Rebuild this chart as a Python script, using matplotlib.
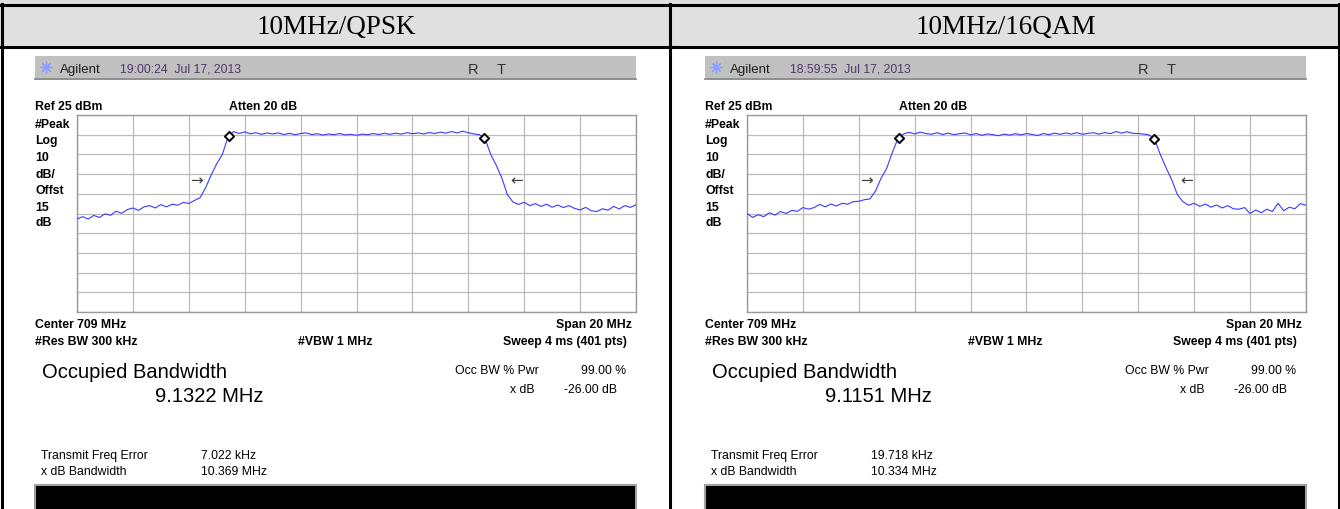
import numpy as np
import matplotlib
matplotlib.use("Agg")
import matplotlib.pyplot as plt
from matplotlib.patches import Rectangle

# ---------------- data ----------------
titles = ["10MHz/QPSK", "10MHz/16QAM"]
timestamps = ["19:00:24  Jul 17, 2013", "18:59:55  Jul 17, 2013"]
center_mhz = 709
span_mhz = 20
ref_dbm = 25
db_per_div = 10
occ_bw_mhz = [9.1322, 9.1151]
freq_err = ["7.022 kHz", "19.718 kHz"]
xdb_bw_mhz = [10.369, 10.334]
xdb_bw_text = ["10.369 MHz", "10.334 MHz"]

trace_qpsk = [
    -27.8, -26.6, -27.8, -26.0, -27.0, -25.2, -25.9, -23.8, -24.9, -23.0,
    -22.2, -23.4, -21.6, -21.0, -22.2, -20.5, -21.6, -20.3, -20.8, -19.4,
    -19.9, -18.4, -17.0, -12.0, -5.5, 0.3, 5.0, 13.7,
    16.6, 15.6, 16.4, 15.5, 16.0, 15.2, 15.9, 15.4, 15.9, 15.1,
    15.7, 15.0, 15.6, 15.9, 15.1, 15.5, 14.8, 15.4, 15.0, 15.6,
    14.9, 15.2, 14.7, 15.3, 15.0, 15.6, 15.1, 15.7, 15.2, 15.8,
    15.3, 16.0, 15.5, 15.9, 15.4, 16.1, 15.6, 16.3, 15.8, 16.6,
    15.9, 16.8, 16.0,
    15.4, 15.0, 13.0, 5.0, -0.5, -7.0, -15.5,
    -19.2, -20.4, -19.3, -21.0, -20.0, -21.4, -20.3, -21.8, -20.7, -22.0,
    -21.0, -22.4, -23.2, -21.9, -23.6, -24.0, -22.6, -23.3, -21.4, -22.7,
    -21.0, -21.9, -20.6,
]
trace_16qam = [
    -25.0, -27.0, -25.6, -26.6, -24.6, -25.8, -24.0, -25.0, -23.4, -23.9,
    -22.0, -22.8, -22.0, -20.4, -21.6, -20.2, -21.2, -19.8, -20.3, -19.0,
    -18.8, -18.0, -17.6, -13.5, -7.0, -2.0, 6.0, 13.0,
    15.4, 16.2, 15.4, 16.3, 15.6, 15.2, 16.0, 15.1, 15.8, 15.0,
    15.5, 15.9, 14.9, 15.6, 14.7, 15.4, 15.0, 14.5, 15.3, 14.8,
    15.5, 14.9, 15.6, 15.1, 14.6, 15.6, 15.0, 15.8, 15.2, 15.9,
    15.3, 16.0, 15.2, 15.7, 16.0, 15.3, 16.1, 15.5, 16.6, 15.8,
    16.5, 15.7, 15.6,
    15.3, 14.8, 12.0, 4.5, -2.0, -8.0, -15.5,
    -19.0, -20.8, -19.8, -21.4, -20.2, -21.8, -20.7, -22.2, -21.0, -22.6,
    -22.8, -22.0, -25.0, -23.2, -24.6, -22.8, -24.0, -19.8, -23.6, -21.8,
    -22.6, -20.0, -20.8,
]
traces = [trace_qpsk, trace_16qam]

# ---------------- figure ----------------
W, H = 1340, 510
fig = plt.figure(figsize=(W / 100, H / 100), dpi=100)
fig.patch.set_facecolor("white")
bg = fig.add_axes([0, 0, 1, 1])
bg.set_xlim(0, W)
bg.set_ylim(H, 0)
bg.axis("off")

SANS = ["Liberation Sans", "DejaVu Sans"]
SERIF = ["Liberation Serif", "DejaVu Serif"]
dy = 1.5  # small vertical nudge for instrument texts

# table structure
bg.add_patch(Rectangle((0, 0), W, 48, facecolor="#e0e0e0", edgecolor="none"))
bg.plot([0, W], [5.5, 5.5], color="black", lw=2.2)
bg.plot([0, W], [48, 48], color="black", lw=2.2)
for xv in [1.5, 670, 1338.5]:
    bg.plot([xv, xv], [5, H], color="black", lw=2.2)

pw = 559   # grid width in px
ph = 197   # grid height in px

for k in range(2):
    ox = 670 * k
    # header title
    bg.text(336 + ox, 28, titles[k], family=SERIF, fontsize=19.5,
            ha="center", va="center", color="black")

    # Agilent bar
    bg.add_patch(Rectangle((35 + ox, 57), 601, 22, facecolor="#c0c0c0",
                           edgecolor="none"))
    bg.plot([35 + ox, 636 + ox], [79.5, 79.5], color="#7a7a7a", lw=1.2)
    bg.scatter([46 + ox], [68], marker=(8, 2, 0), s=60, color="#8aa0ff",
               lw=0.9, zorder=3)
    bg.text(60 + ox, 68 + dy, "Agilent", family=SANS, fontsize=9.5,
            ha="left", va="center", color="#202020")
    bg.text(120 + ox, 68 + dy, timestamps[k], family=SANS, fontsize=8.8,
            ha="left", va="center", color="#503868")
    bg.text(468 + ox, 68 + dy, "R", family=SANS, fontsize=10.5,
            ha="left", va="center", color="#303030")
    bg.text(497 + ox, 68 + dy, "T", family=SANS, fontsize=10.5,
            ha="left", va="center", color="#303030")

    # labels above / left of grid
    bold = dict(family=SANS, fontsize=8.8, fontweight="bold",
                va="center", color="black")
    bg.text(35 + ox, 106 + dy, f"Ref {ref_dbm} dBm", ha="left", **bold)
    bg.text(229 + ox, 106 + dy, "Atten 20 dB", ha="left", **bold)
    for yy, s in zip([123, 140, 157, 174, 190, 207, 222],
                     ["#Peak", "Log", f"{db_per_div}", "dB/", "Offst", "15", "dB"]):
        bg.text(35 + ox, yy + dy, s, ha="left", **bold)

    bg.text(35 + ox, 324 + dy, f"Center {center_mhz} MHz", ha="left", **bold)
    bg.text(632 + ox, 324 + dy, f"Span {span_mhz} MHz", ha="right", **bold)
    bg.text(35 + ox, 341 + dy, "#Res BW 300 kHz", ha="left", **bold)
    bg.text(298 + ox, 341 + dy, "#VBW 1 MHz", ha="left", **bold)
    bg.text(627 + ox, 341 + dy, "Sweep 4 ms (401 pts)", ha="right", **bold)

    bg.text(42 + ox, 371 + dy, "Occupied Bandwidth", family=SANS, fontsize=14.5,
            ha="left", va="center", color="black")
    bg.text(155 + ox, 395 + dy, f"{occ_bw_mhz[k]:.4f} MHz", family=SANS,
            fontsize=14.5, ha="left", va="center", color="black")

    small = dict(family=SANS, fontsize=8.8, va="center", color="black")
    bg.text(455 + ox, 370 + dy, "Occ BW % Pwr", ha="left", **small)
    bg.text(626 + ox, 370 + dy, "99.00 %", ha="right", **small)
    bg.text(510 + ox, 389 + dy, "x dB", ha="left", **small)
    bg.text(617 + ox, 389 + dy, "-26.00 dB", ha="right", **small)

    bg.text(41 + ox, 455 + dy, "Transmit Freq Error", ha="left", **small)
    bg.text(201 + ox, 455 + dy, freq_err[k], ha="left", **small)
    bg.text(41 + ox, 471 + dy, "x dB Bandwidth", ha="left", **small)
    bg.text(201 + ox, 471 + dy, xdb_bw_text[k], ha="left", **small)

    # black status bar
    bg.add_patch(Rectangle((35 + ox, 486), 601, 26, facecolor="black",
                           edgecolor="#a0a0a0", lw=1.5))

    # spectrum grid axes
    left_px, top_px = 77 + ox, 116
    ax = fig.add_axes([left_px / W, 1 - (top_px + ph) / H, pw / W, ph / H])
    f0 = center_mhz - span_mhz / 2
    f1 = center_mhz + span_mhz / 2
    freqs = np.linspace(f0, f1, len(traces[k]))
    ax.plot(freqs, traces[k], color="#3a3aff", lw=0.8, zorder=3)
    ax.set_xlim(f0, f1)
    ax.set_ylim(ref_dbm - 10 * db_per_div, ref_dbm)
    ax.set_xticks(np.linspace(f0, f1, 11))
    ax.set_yticks(np.arange(ref_dbm - 10 * db_per_div, ref_dbm + 1, db_per_div))
    ax.set_xticklabels([])
    ax.set_yticklabels([])
    ax.tick_params(length=0)
    ax.grid(True, color="#bcbcbc", lw=0.9)
    for sp in ax.spines.values():
        sp.set_color("#9a9a9a")
        sp.set_linewidth(1.0)

    # occupied bandwidth markers
    mx = [center_mhz - occ_bw_mhz[k] / 2, center_mhz + occ_bw_mhz[k] / 2]
    my = np.interp(mx, freqs, traces[k])
    ax.scatter(mx, my, marker="D", s=22, facecolor="white",
               edgecolor="black", lw=1.4, zorder=4)

    # x dB bandwidth arrows
    ax_left = center_mhz - xdb_bw_mhz[k] / 2 - 0.55
    ax_right = center_mhz + xdb_bw_mhz[k] / 2 + 0.55
    ax.text(ax_left, -8, "→", family=["DejaVu Sans"], fontsize=11,
            ha="center", va="center", color="#404040", zorder=4)
    ax.text(ax_right, -8, "←", family=["DejaVu Sans"], fontsize=11,
            ha="center", va="center", color="#404040", zorder=4)

fig.savefig("out.png", dpi=100)
